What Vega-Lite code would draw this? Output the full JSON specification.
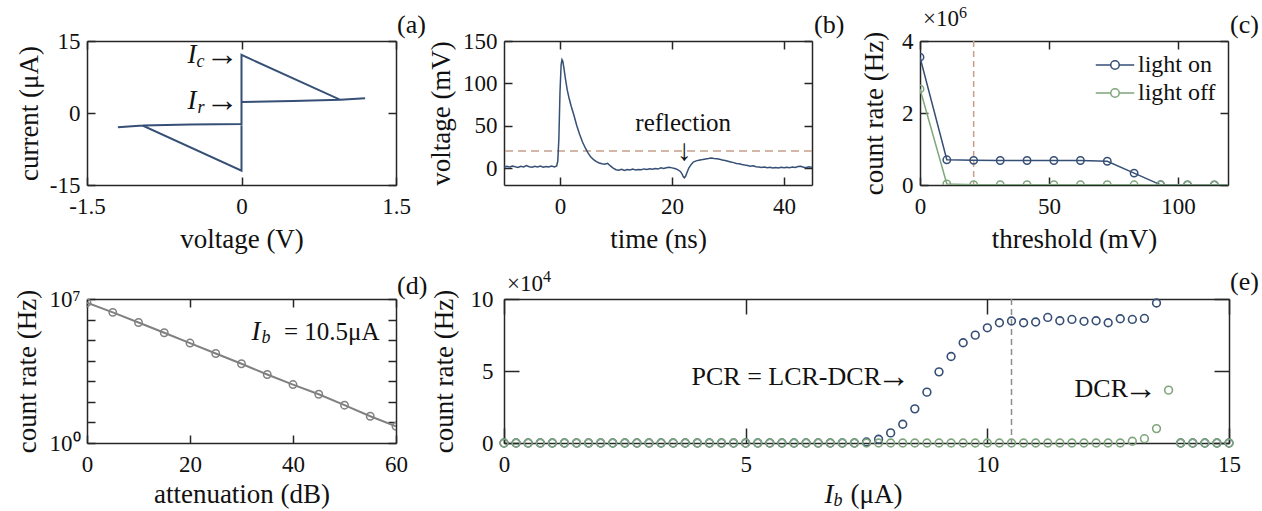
{
  "$schema": "https://vega.github.io/schema/vega-lite/v6.json",
  "background": "white",
  "padding": {"left": 13, "top": 5, "right": 5, "bottom": 5},
  "spacing": 17,
  "bounds": "full",
  "resolve": {"legend": {"color": "independent"}},
  "config": {
    "font": "Liberation Serif",
    "view": {"stroke": null},
    "axis": {"grid": false, "domainColor": "#262626", "domainWidth": 1.5, "tickColor": "#262626", "tickWidth": 1.5, "tickSize": -8, "labelFont": "Liberation Serif", "labelFontSize": 23, "labelColor": "#111111", "titleFont": "Liberation Serif", "titleFontSize": 27, "titleFontWeight": "normal", "titleColor": "#111111", "labelFlush": false, "labelOverlap": false, "zindex": 1},
    "axisBottom": {"labelPadding": 18, "titlePadding": 8},
    "axisLeft": {"labelPadding": 15},
    "text": {"font": "Liberation Serif", "color": "#111111"}
  },
  "vconcat": [
    {
      "hconcat": [
        {
          "width": 309, "height": 144,
          "data": {"values": [
            {"k": 1, "v": -1.2, "i": -2.95}, {"k": 2, "v": -0.96, "i": -2.6}, {"k": 3, "v": 0, "i": -12.0},
            {"k": 4, "v": 0, "i": 12.1}, {"k": 5, "v": 0.96, "i": 2.75}, {"k": 6, "v": 1.2, "i": 3.05},
            {"k": 7, "v": 0.96, "i": 2.75}, {"k": 8, "v": 0.5, "i": 2.5}, {"k": 9, "v": 0, "i": 2.3},
            {"k": 10, "v": 0, "i": -2.3}, {"k": 11, "v": -0.5, "i": -2.38}, {"k": 12, "v": -0.96, "i": -2.6}
          ]},
          "layer": [
            {"mark": {"type": "line", "color": "#364f76", "strokeWidth": 2},
             "encoding": {
               "x": {"field": "v", "type": "quantitative", "scale": {"domain": [-1.5, 1.5], "nice": false, "zero": false}, "axis": {"orient": "bottom", "values": [-1.5, 0, 1.5], "labelExpr": "'' + datum.value", "title": "voltage (V)"}},
               "y": {"field": "i", "type": "quantitative", "scale": {"domain": [-15, 15], "nice": false}, "axis": {"orient": "left", "values": [-15, 0, 15], "labelExpr": "'' + datum.value", "title": "current (μA)", "titlePadding": 6}},
               "order": {"field": "k", "type": "quantitative"}
             }},
            {"mark": {"type": "point", "opacity": 0},
             "encoding": {
               "x": {"field": "v", "type": "quantitative", "axis": {"orient": "top", "values": [-1.5, 0, 1.5], "labels": false, "title": null}},
               "y": {"field": "i", "type": "quantitative", "axis": {"orient": "right", "values": [-15, 0, 15], "labels": false, "title": null}}
             }},
            {"data": {"values": [{}]}, "mark": {"type": "text", "text": "(a)", "align": "left", "baseline": "middle", "dx": 1, "dy": -16, "fontSize": 26},
             "encoding": {"x": {"datum": 1.5, "type": "quantitative", "axis": null}, "y": {"datum": 15, "type": "quantitative", "axis": null}}},
            {"data": {"values": [{}]}, "mark": {"type": "text", "text": "→", "align": "right", "baseline": "middle", "dx": -3, "fontSize": 33},
             "encoding": {"x": {"datum": 0, "type": "quantitative", "axis": null}, "y": {"datum": 12, "type": "quantitative", "axis": null}}},
            {"data": {"values": [{}]}, "mark": {"type": "text", "text": "I", "align": "right", "baseline": "middle", "dx": -45, "fontSize": 27, "fontStyle": "italic"},
             "encoding": {"x": {"datum": 0, "type": "quantitative", "axis": null}, "y": {"datum": 12, "type": "quantitative", "axis": null}}},
            {"data": {"values": [{}]}, "mark": {"type": "text", "text": "c", "align": "right", "baseline": "middle", "dx": -37, "dy": 7, "fontSize": 18, "fontStyle": "italic"},
             "encoding": {"x": {"datum": 0, "type": "quantitative", "axis": null}, "y": {"datum": 12, "type": "quantitative", "axis": null}}},
            {"data": {"values": [{}]}, "mark": {"type": "text", "text": "→", "align": "right", "baseline": "middle", "dx": -3, "fontSize": 33},
             "encoding": {"x": {"datum": 0, "type": "quantitative", "axis": null}, "y": {"datum": 2.4, "type": "quantitative", "axis": null}}},
            {"data": {"values": [{}]}, "mark": {"type": "text", "text": "I", "align": "right", "baseline": "middle", "dx": -45, "fontSize": 27, "fontStyle": "italic"},
             "encoding": {"x": {"datum": 0, "type": "quantitative", "axis": null}, "y": {"datum": 2.4, "type": "quantitative", "axis": null}}},
            {"data": {"values": [{}]}, "mark": {"type": "text", "text": "r", "align": "right", "baseline": "middle", "dx": -37, "dy": 7, "fontSize": 18, "fontStyle": "italic"},
             "encoding": {"x": {"datum": 0, "type": "quantitative", "axis": null}, "y": {"datum": 2.4, "type": "quantitative", "axis": null}}}
          ],
          "resolve": {"axis": {"x": "independent", "y": "independent"}}
        },
        {
          "width": 308, "height": 144,
          "data": {"values": [
            {"t": -10, "v": 1.0}, {"t": -9.5, "v": 2.0}, {"t": -9, "v": 1.2}, {"t": -8.5, "v": 2.4}, {"t": -8, "v": 1.5}, {"t": -7.5, "v": 0.8}, {"t": -7, "v": 2.2}, {"t": -6.5, "v": 1.4}, {"t": -6, "v": 3.0}, {"t": -5.5, "v": 1.6}, {"t": -5, "v": 0.9}, {"t": -4.5, "v": 2.1}, {"t": -4, "v": 1.3}, {"t": -3.5, "v": 2.5}, {"t": -3, "v": 1.1}, {"t": -2.5, "v": 1.9}, {"t": -2, "v": 1.4}, {"t": -1.5, "v": 2.3}, {"t": -1, "v": 1.2}, {"t": -0.6, "v": 2.5}, {"t": -0.4, "v": 8}, {"t": -0.2, "v": 35}, {"t": 0, "v": 90}, {"t": 0.2, "v": 122}, {"t": 0.35, "v": 128}, {"t": 0.5, "v": 126}, {"t": 0.7, "v": 118}, {"t": 1.0, "v": 104}, {"t": 1.3, "v": 92}, {"t": 1.6, "v": 83}, {"t": 2.0, "v": 73}, {"t": 2.5, "v": 62}, {"t": 3.0, "v": 50}, {"t": 3.5, "v": 40}, {"t": 4.0, "v": 31}, {"t": 4.5, "v": 24}, {"t": 5.0, "v": 18}, {"t": 5.5, "v": 13}, {"t": 6.0, "v": 10}, {"t": 6.5, "v": 7.5}, {"t": 7.0, "v": 6}, {"t": 7.5, "v": 5}, {"t": 8.0, "v": 4.5}, {"t": 8.5, "v": 5.5}, {"t": 9, "v": 2.5}, {"t": 9.5, "v": 0}, {"t": 10, "v": -2}, {"t": 10.5, "v": -2.5}, {"t": 11, "v": -1.5}, {"t": 11.5, "v": -2.8}, {"t": 12, "v": -1.8}, {"t": 12.5, "v": -2.2}, {"t": 13, "v": -1.2}, {"t": 13.5, "v": -2.4}, {"t": 14, "v": -1.6}, {"t": 14.5, "v": -2.0}, {"t": 15, "v": -1.0}, {"t": 15.5, "v": -1.8}, {"t": 16, "v": -0.8}, {"t": 16.5, "v": -1.5}, {"t": 17, "v": -0.5}, {"t": 17.5, "v": -1.2}, {"t": 18, "v": 0.2}, {"t": 18.5, "v": -0.6}, {"t": 19, "v": 0.4}, {"t": 19.5, "v": 0.9}, {"t": 20, "v": 0.2}, {"t": 20.5, "v": -0.5}, {"t": 21, "v": -1.8}, {"t": 21.5, "v": -4}, {"t": 21.8, "v": -7}, {"t": 22, "v": -10}, {"t": 22.2, "v": -11.5}, {"t": 22.4, "v": -10}, {"t": 22.7, "v": -5}, {"t": 23, "v": 0}, {"t": 23.4, "v": 4}, {"t": 23.8, "v": 7}, {"t": 24.3, "v": 8.5}, {"t": 25, "v": 9.5}, {"t": 25.5, "v": 10}, {"t": 26, "v": 10.8}, {"t": 26.5, "v": 11.2}, {"t": 27, "v": 11.8}, {"t": 27.5, "v": 11.3}, {"t": 28, "v": 11.0}, {"t": 28.5, "v": 10.5}, {"t": 29, "v": 9.5}, {"t": 29.5, "v": 8.8}, {"t": 30, "v": 8}, {"t": 30.5, "v": 7.2}, {"t": 31, "v": 6.4}, {"t": 31.5, "v": 5.5}, {"t": 32, "v": 5}, {"t": 32.5, "v": 4.2}, {"t": 33, "v": 3.5}, {"t": 33.5, "v": 3}, {"t": 34, "v": 2.2}, {"t": 34.5, "v": 2.6}, {"t": 35, "v": 1.5}, {"t": 35.5, "v": 1.2}, {"t": 36, "v": 0.8}, {"t": 36.5, "v": 1.3}, {"t": 37, "v": 0.3}, {"t": 37.5, "v": 0.9}, {"t": 38, "v": 0.2}, {"t": 38.5, "v": 0.7}, {"t": 39, "v": 0.1}, {"t": 39.5, "v": 0.8}, {"t": 40, "v": 0.3}, {"t": 40.5, "v": 1.0}, {"t": 41, "v": 0.5}, {"t": 41.5, "v": 1.2}, {"t": 42, "v": 0.7}, {"t": 42.5, "v": 1.8}, {"t": 43, "v": 2.2}, {"t": 43.5, "v": 1.0}, {"t": 44, "v": 0.6}, {"t": 44.5, "v": 1.4}, {"t": 45, "v": 0.8}
          ]},
          "layer": [
            {"data": {"values": [{}]}, "mark": {"type": "rule", "color": "#c4a08c", "strokeWidth": 1.5, "strokeDash": [8, 5]},
             "encoding": {"y": {"datum": 20, "type": "quantitative", "axis": null}}},
            {"mark": {"type": "line", "color": "#364f76", "strokeWidth": 1.5},
             "encoding": {
               "x": {"field": "t", "type": "quantitative", "scale": {"domain": [-10, 45], "nice": false, "zero": false}, "axis": {"orient": "bottom", "values": [0, 20, 40], "title": "time (ns)"}},
               "y": {"field": "v", "type": "quantitative", "scale": {"domain": [-20, 150], "nice": false}, "axis": {"orient": "left", "values": [0, 50, 100, 150], "title": "voltage (mV)", "titlePadding": 7}}
             }},
            {"mark": {"type": "point", "opacity": 0},
             "encoding": {
               "x": {"field": "t", "type": "quantitative", "axis": {"orient": "top", "values": [0, 20, 40], "labels": false, "title": null}},
               "y": {"field": "v", "type": "quantitative", "axis": {"orient": "right", "values": [0, 50, 100, 150], "labels": false, "title": null}}
             }},
            {"data": {"values": [{}]}, "mark": {"type": "text", "text": "(b)", "align": "left", "baseline": "middle", "dx": 2, "dy": -16, "fontSize": 26},
             "encoding": {"x": {"datum": 45, "type": "quantitative", "axis": null}, "y": {"datum": 150, "type": "quantitative", "axis": null}}},
            {"data": {"values": [{}]}, "mark": {"type": "text", "text": "reflection", "align": "center", "baseline": "alphabetic", "fontSize": 25},
             "encoding": {"x": {"datum": 22, "type": "quantitative", "axis": null}, "y": {"datum": 43.5, "type": "quantitative", "axis": null}}},
            {"data": {"values": [{}]}, "mark": {"type": "text", "text": "↓", "align": "center", "baseline": "middle", "fontSize": 30, "color": "#111111"},
             "encoding": {"x": {"datum": 22.2, "type": "quantitative", "axis": null}, "y": {"datum": 20.5, "type": "quantitative", "axis": null}}}
          ],
          "resolve": {"axis": {"x": "independent", "y": "independent"}}
        },
        {
          "width": 308, "height": 144,
          "data": {"values": [
            {"thr": 0, "rate": 3550000, "s": "light on"}, {"thr": 10.4, "rate": 700000, "s": "light on"}, {"thr": 20.8, "rate": 685000, "s": "light on"}, {"thr": 31.1, "rate": 680000, "s": "light on"}, {"thr": 41.5, "rate": 680000, "s": "light on"}, {"thr": 51.9, "rate": 680000, "s": "light on"}, {"thr": 62.2, "rate": 680000, "s": "light on"}, {"thr": 72.6, "rate": 660000, "s": "light on"}, {"thr": 83.0, "rate": 330000, "s": "light on"}, {"thr": 93.3, "rate": 5000, "s": "light on"}, {"thr": 103.7, "rate": 0, "s": "light on"}, {"thr": 114.1, "rate": 0, "s": "light on"}, {"thr": 124.4, "rate": 0, "s": "light on"},
            {"thr": 0, "rate": 2670000, "s": "light off"}, {"thr": 10.4, "rate": 30000, "s": "light off"}, {"thr": 20.8, "rate": 10000, "s": "light off"}, {"thr": 31.1, "rate": 10000, "s": "light off"}, {"thr": 41.5, "rate": 10000, "s": "light off"}, {"thr": 51.9, "rate": 8000, "s": "light off"}, {"thr": 62.2, "rate": 8000, "s": "light off"}, {"thr": 72.6, "rate": 8000, "s": "light off"}, {"thr": 83.0, "rate": 5000, "s": "light off"}, {"thr": 93.3, "rate": 0, "s": "light off"}, {"thr": 103.7, "rate": 0, "s": "light off"}, {"thr": 114.1, "rate": 0, "s": "light off"}, {"thr": 124.4, "rate": 0, "s": "light off"}
          ]},
          "layer": [
            {"data": {"values": [{}]}, "mark": {"type": "rule", "color": "#c4a08c", "strokeWidth": 1.5, "strokeDash": [6, 4]},
             "encoding": {"x": {"datum": 20.8, "type": "quantitative", "axis": null}}},
            {"mark": {"type": "line", "strokeWidth": 1.5, "clip": true},
             "encoding": {
               "x": {"field": "thr", "type": "quantitative", "scale": {"domain": [0, 119.4], "nice": false, "zero": false}, "axis": {"orient": "bottom", "values": [0, 50, 100], "title": "threshold (mV)"}},
               "y": {"field": "rate", "type": "quantitative", "scale": {"domain": [0, 4000000], "nice": false}, "axis": {"orient": "left", "values": [0, 2000000, 4000000], "labelExpr": "'' + datum.value / 1000000", "title": "count rate (Hz)", "titlePadding": 13}},
               "color": {"field": "s", "type": "nominal", "sort": ["light on", "light off"], "scale": {"domain": ["light on", "light off"], "range": ["#364f76", "#7fa67c"]},
                 "legend": {"title": null, "orient": "none", "legendX": 183, "legendY": 12, "padding": 0, "symbolType": "M-2,0H-0.44M0.44,0H2M0.44,0A0.44,0.44,0,1,1,-0.44,0A0.44,0.44,0,1,1,0.44,0", "symbolSize": 370, "symbolStrokeWidth": 1.5, "symbolFillColor": "white", "labelFont": "Liberation Serif", "labelFontSize": 24, "labelColor": "#111111", "labelOffset": 11, "rowPadding": 4}}
             }},
            {"mark": {"type": "point", "filled": false, "size": 55, "strokeWidth": 1.5, "opacity": 1, "clip": true},
             "encoding": {
               "x": {"field": "thr", "type": "quantitative", "axis": {"orient": "top", "values": [0, 50, 100], "labels": false, "title": null}},
               "y": {"field": "rate", "type": "quantitative", "axis": {"orient": "right", "values": [0, 2000000, 4000000], "labels": false, "title": null}},
               "color": {"field": "s", "type": "nominal", "sort": ["light on", "light off"],
                 "legend": {"title": null, "orient": "none", "legendX": 183, "legendY": 12, "padding": 0, "symbolType": "M-2,0H-0.44M0.44,0H2M0.44,0A0.44,0.44,0,1,1,-0.44,0A0.44,0.44,0,1,1,0.44,0", "symbolSize": 370, "symbolStrokeWidth": 1.5, "symbolFillColor": "white", "labelFont": "Liberation Serif", "labelFontSize": 24, "labelColor": "#111111", "labelOffset": 11, "rowPadding": 4}}
             }},
            {"data": {"values": [{}]}, "mark": {"type": "text", "text": "(c)", "align": "left", "baseline": "middle", "dx": 2, "dy": -16, "fontSize": 26},
             "encoding": {"x": {"datum": 119.4, "type": "quantitative", "axis": null}, "y": {"datum": 4000000, "type": "quantitative", "axis": null}}},
            {"data": {"values": [{}]}, "mark": {"type": "text", "text": "×10", "align": "left", "baseline": "middle", "dx": 3, "dy": -22, "fontSize": 23},
             "encoding": {"x": {"datum": 0, "type": "quantitative", "axis": null}, "y": {"datum": 4000000, "type": "quantitative", "axis": null}}},
            {"data": {"values": [{}]}, "mark": {"type": "text", "text": "6", "align": "left", "baseline": "middle", "dx": 39, "dy": -28, "fontSize": 16},
             "encoding": {"x": {"datum": 0, "type": "quantitative", "axis": null}, "y": {"datum": 4000000, "type": "quantitative", "axis": null}}}
          ],
          "resolve": {"axis": {"x": "independent", "y": "independent"}}
        }
      ],
      "spacing": 108,
      "bounds": "flush",
      "resolve": {"legend": {"color": "independent"}}
    },
    {
      "hconcat": [
        {
          "width": 309, "height": 144,
          "data": {"values": [
            {"att": 0, "rate": 6600000}, {"att": 5, "rate": 2240000}, {"att": 10, "rate": 720000}, {"att": 15, "rate": 229000}, {"att": 20, "rate": 72000}, {"att": 25, "rate": 22400}, {"att": 30, "rate": 7100}, {"att": 35, "rate": 2140}, {"att": 40, "rate": 692}, {"att": 45, "rate": 234}, {"att": 50, "rate": 69}, {"att": 55, "rate": 20}, {"att": 60, "rate": 6.5}
          ]},
          "layer": [
            {"mark": {"type": "line", "color": "#808080", "strokeWidth": 2, "clip": true},
             "encoding": {
               "x": {"field": "att", "type": "quantitative", "scale": {"domain": [0, 60], "nice": false}, "axis": {"orient": "bottom", "values": [0, 20, 40, 60], "title": "attenuation (dB)", "titlePadding": 5}},
               "y": {"field": "rate", "type": "quantitative", "scale": {"type": "log", "domain": [1, 10000000], "nice": false}, "axis": {"orient": "left", "values": [1, 10, 100, 1000, 10000, 100000, 1000000, 10000000], "labelExpr": "datum.value < 2 ? '10⁰' : (datum.value > 5000000 ? '10⁷' : '')", "title": "count rate (Hz)", "titlePadding": 7}}
             }},
            {"mark": {"type": "point", "filled": false, "size": 55, "strokeWidth": 1.5, "color": "#808080", "opacity": 1, "clip": true},
             "encoding": {
               "x": {"field": "att", "type": "quantitative", "axis": {"orient": "top", "values": [0, 20, 40, 60], "labels": false, "title": null}},
               "y": {"field": "rate", "type": "quantitative", "axis": {"orient": "right", "values": [1, 10, 100, 1000, 10000, 100000, 1000000, 10000000], "labels": false, "title": null}}
             }},
            {"data": {"values": [{}]}, "mark": {"type": "text", "text": "(d)", "align": "left", "baseline": "middle", "dx": 1, "dy": -13, "fontSize": 26},
             "encoding": {"x": {"datum": 60, "type": "quantitative", "axis": null}, "y": {"datum": 10000000, "type": "quantitative", "axis": null}}},
            {"data": {"values": [{}]}, "mark": {"type": "text", "text": "= 10.5μA", "align": "right", "baseline": "middle", "fontSize": 25},
             "encoding": {"x": {"datum": 56.8, "type": "quantitative", "axis": null}, "y": {"datum": 257000, "type": "quantitative", "axis": null}}},
            {"data": {"values": [{}]}, "mark": {"type": "text", "text": "I", "align": "right", "baseline": "middle", "dx": -119, "fontSize": 27, "fontStyle": "italic"},
             "encoding": {"x": {"datum": 56.8, "type": "quantitative", "axis": null}, "y": {"datum": 257000, "type": "quantitative", "axis": null}}},
            {"data": {"values": [{}]}, "mark": {"type": "text", "text": "b", "align": "left", "baseline": "middle", "dx": -118, "dy": 6, "fontSize": 18, "fontStyle": "italic"},
             "encoding": {"x": {"datum": 56.8, "type": "quantitative", "axis": null}, "y": {"datum": 257000, "type": "quantitative", "axis": null}}}
          ],
          "resolve": {"axis": {"x": "independent", "y": "independent"}}
        },
        {
          "width": 725, "height": 144,
          "data": {"values": [
            {"ib": 0, "pcr": 0, "dcr": 0}, {"ib": 0.25, "pcr": 0, "dcr": 0}, {"ib": 0.5, "pcr": 0, "dcr": 0}, {"ib": 0.75, "pcr": 0, "dcr": 0}, {"ib": 1, "pcr": 0, "dcr": 0}, {"ib": 1.25, "pcr": 0, "dcr": 0}, {"ib": 1.5, "pcr": 0, "dcr": 0}, {"ib": 1.75, "pcr": 0, "dcr": 0}, {"ib": 2, "pcr": 0, "dcr": 0}, {"ib": 2.25, "pcr": 0, "dcr": 0}, {"ib": 2.5, "pcr": 0, "dcr": 0}, {"ib": 2.75, "pcr": 0, "dcr": 0}, {"ib": 3, "pcr": 0, "dcr": 0}, {"ib": 3.25, "pcr": 0, "dcr": 0}, {"ib": 3.5, "pcr": 0, "dcr": 0}, {"ib": 3.75, "pcr": 0, "dcr": 0}, {"ib": 4, "pcr": 0, "dcr": 0}, {"ib": 4.25, "pcr": 0, "dcr": 0}, {"ib": 4.5, "pcr": 0, "dcr": 0}, {"ib": 4.75, "pcr": 0, "dcr": 0}, {"ib": 5, "pcr": 0, "dcr": 0}, {"ib": 5.25, "pcr": 0, "dcr": 0}, {"ib": 5.5, "pcr": 0, "dcr": 0}, {"ib": 5.75, "pcr": 0, "dcr": 0}, {"ib": 6, "pcr": 0, "dcr": 0}, {"ib": 6.25, "pcr": 0, "dcr": 0}, {"ib": 6.5, "pcr": 0, "dcr": 0}, {"ib": 6.75, "pcr": 0, "dcr": 0}, {"ib": 7, "pcr": 0, "dcr": 0}, {"ib": 7.25, "pcr": 0, "dcr": 0},
            {"ib": 7.5, "pcr": 700, "dcr": 0}, {"ib": 7.75, "pcr": 2600, "dcr": 0}, {"ib": 8, "pcr": 7000, "dcr": 0}, {"ib": 8.25, "pcr": 13000, "dcr": 0}, {"ib": 8.5, "pcr": 23700, "dcr": 0}, {"ib": 8.75, "pcr": 35300, "dcr": 0}, {"ib": 9, "pcr": 49400, "dcr": 0}, {"ib": 9.25, "pcr": 60100, "dcr": 0}, {"ib": 9.5, "pcr": 69600, "dcr": 0}, {"ib": 9.75, "pcr": 74900, "dcr": 0}, {"ib": 10, "pcr": 80000, "dcr": 0}, {"ib": 10.25, "pcr": 83500, "dcr": 0}, {"ib": 10.5, "pcr": 84700, "dcr": 0}, {"ib": 10.75, "pcr": 83500, "dcr": 0}, {"ib": 11, "pcr": 84000, "dcr": 0}, {"ib": 11.25, "pcr": 87200, "dcr": 0}, {"ib": 11.5, "pcr": 84900, "dcr": 0}, {"ib": 11.75, "pcr": 85800, "dcr": 0}, {"ib": 12, "pcr": 84500, "dcr": 0}, {"ib": 12.25, "pcr": 84900, "dcr": 0}, {"ib": 12.5, "pcr": 83500, "dcr": 0}, {"ib": 12.75, "pcr": 86300, "dcr": 0}, {"ib": 13, "pcr": 85800, "dcr": 1200}, {"ib": 13.25, "pcr": 86500, "dcr": 3000}, {"ib": 13.5, "pcr": 97200, "dcr": 10000}, {"ib": 13.75, "pcr": null, "dcr": 36700},
            {"ib": 14, "pcr": 0, "dcr": 0}, {"ib": 14.25, "pcr": 0, "dcr": 0}, {"ib": 14.5, "pcr": 0, "dcr": 0}, {"ib": 14.75, "pcr": 0, "dcr": 0}, {"ib": 15, "pcr": 0, "dcr": 0}
          ]},
          "layer": [
            {"data": {"values": [{}]}, "mark": {"type": "rule", "color": "#8c8c8c", "strokeWidth": 1.5, "strokeDash": [6, 4]},
             "encoding": {"x": {"datum": 10.5, "type": "quantitative", "axis": null}}},
            {"mark": {"type": "point", "filled": false, "size": 60, "strokeWidth": 1.6, "color": "#364f76", "opacity": 1},
             "encoding": {
               "x": {"field": "ib", "type": "quantitative", "scale": {"domain": [0, 15], "nice": false}, "axis": {"orient": "bottom", "values": [0, 5, 10, 15], "title": null, "tickSize": -15, "labelPadding": 25}},
               "y": {"field": "pcr", "type": "quantitative", "scale": {"domain": [0, 100000], "nice": false}, "axis": {"orient": "left", "values": [0, 50000, 100000], "labelExpr": "'' + datum.value / 10000", "title": "count rate (Hz)", "titlePadding": 12, "tickSize": -15, "labelPadding": 26}}
             }},
            {"mark": {"type": "point", "filled": false, "size": 60, "strokeWidth": 1.6, "color": "#7fa67c", "opacity": 1},
             "encoding": {
               "x": {"field": "ib", "type": "quantitative", "axis": {"orient": "top", "values": [0, 5, 10, 15], "labels": false, "title": null, "tickSize": -15}},
               "y": {"field": "dcr", "type": "quantitative", "axis": {"orient": "right", "values": [0, 50000, 100000], "labels": false, "title": null, "tickSize": -15}}
             }},
            {"data": {"values": [{}]}, "mark": {"type": "text", "text": "(e)", "align": "left", "baseline": "middle", "dx": 1, "dy": -17, "fontSize": 26},
             "encoding": {"x": {"datum": 15, "type": "quantitative", "axis": null}, "y": {"datum": 100000, "type": "quantitative", "axis": null}}},
            {"data": {"values": [{}]}, "mark": {"type": "text", "text": "×10", "align": "left", "baseline": "middle", "dx": 3, "dy": -15, "fontSize": 23},
             "encoding": {"x": {"datum": 0, "type": "quantitative", "axis": null}, "y": {"datum": 100000, "type": "quantitative", "axis": null}}},
            {"data": {"values": [{}]}, "mark": {"type": "text", "text": "4", "align": "left", "baseline": "middle", "dx": 39, "dy": -22, "fontSize": 16},
             "encoding": {"x": {"datum": 0, "type": "quantitative", "axis": null}, "y": {"datum": 100000, "type": "quantitative", "axis": null}}},
            {"data": {"values": [{}]}, "mark": {"type": "text", "text": "PCR = LCR-DCR", "align": "right", "baseline": "middle", "dx": -29, "fontSize": 26},
             "encoding": {"x": {"datum": 8.4, "type": "quantitative", "axis": null}, "y": {"datum": 45800, "type": "quantitative", "axis": null}}},
            {"data": {"values": [{}]}, "mark": {"type": "text", "text": "→", "align": "right", "baseline": "middle", "fontSize": 33},
             "encoding": {"x": {"datum": 8.4, "type": "quantitative", "axis": null}, "y": {"datum": 45800, "type": "quantitative", "axis": null}}},
            {"data": {"values": [{}]}, "mark": {"type": "text", "text": "DCR", "align": "right", "baseline": "middle", "dx": -29, "fontSize": 26},
             "encoding": {"x": {"datum": 13.51, "type": "quantitative", "axis": null}, "y": {"datum": 37500, "type": "quantitative", "axis": null}}},
            {"data": {"values": [{}]}, "mark": {"type": "text", "text": "→", "align": "right", "baseline": "middle", "fontSize": 33},
             "encoding": {"x": {"datum": 13.51, "type": "quantitative", "axis": null}, "y": {"datum": 37500, "type": "quantitative", "axis": null}}},
            {"data": {"values": [{}]}, "mark": {"type": "text", "text": "I", "align": "right", "baseline": "middle", "dx": -33, "dy": 52, "fontSize": 27, "fontStyle": "italic"},
             "encoding": {"x": {"datum": 7.5, "type": "quantitative", "axis": null}, "y": {"datum": 0, "type": "quantitative", "axis": null}}},
            {"data": {"values": [{}]}, "mark": {"type": "text", "text": "b", "align": "left", "baseline": "middle", "dx": -33, "dy": 58, "fontSize": 18, "fontStyle": "italic"},
             "encoding": {"x": {"datum": 7.5, "type": "quantitative", "axis": null}, "y": {"datum": 0, "type": "quantitative", "axis": null}}},
            {"data": {"values": [{}]}, "mark": {"type": "text", "text": "(μA)", "align": "left", "baseline": "middle", "dx": -16, "dy": 52, "fontSize": 27},
             "encoding": {"x": {"datum": 7.5, "type": "quantitative", "axis": null}, "y": {"datum": 0, "type": "quantitative", "axis": null}}}
          ],
          "resolve": {"axis": {"x": "independent", "y": "independent"}}
        }
      ],
      "spacing": 108,
      "bounds": "flush"
    }
  ]
}
